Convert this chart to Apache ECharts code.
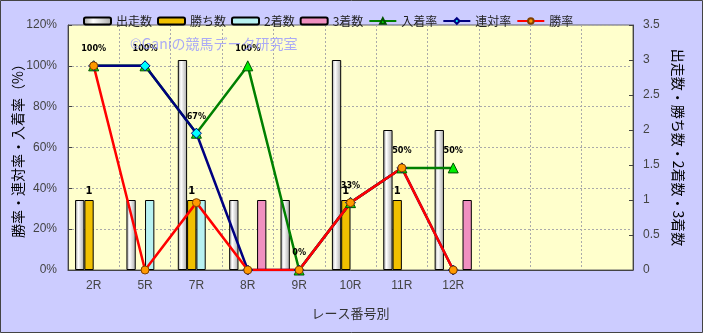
<!DOCTYPE html>
<html><head><meta charset="utf-8">
<script src="https://cdn.jsdelivr.net/npm/echarts@6/dist/echarts.min.js"></script>
<style>html,body{margin:0;padding:0;background:#CCCCFF}#c{width:703px;height:333px}</style>
</head><body><div id="c"></div>
<script>
const categories = ['2R','5R','7R','8R','9R','10R','11R','12R','','',''];
const starts   = [1,1,3,1,1,3,2,2];
const wins     = [1,0,1,0,0,1,1,0];
const seconds  = [0,1,1,0,0,0,0,0];
const thirds   = [0,0,0,1,0,0,0,1];
const placeRate = [100,100,67,100,0,33,50,50];
const rentaiRate = [100,100,67,0,0,33,50,0];
const winRate   = [100,0,33,0,0,33,50,0];
const leftTicks = {min:0,max:120,interval:20};
const rightTicks = {min:0,max:3.5,interval:0.5};

// zero counts are not drawn as bars
const barData = arr => arr.map(v => (v === 0 ? null : v));

const font = '"Noto Sans CJK JP", "Liberation Sans", sans-serif';
const numFont = '"Liberation Sans", sans-serif';
const chart = echarts.init(document.getElementById('c'), null, {renderer:'canvas'});
const barBorder = {borderColor:'#000', borderWidth:1};
const startColor = new echarts.graphic.LinearGradient(0,0,1,0,[
  {offset:0,color:'#a0a0a0'},{offset:0.35,color:'#ffffff'},{offset:1,color:'#a8a8a8'}]);
const BW = 9.3;
chart.setOption({
  backgroundColor:'#CCCCFF',
  animation:false,
  textStyle:{fontFamily:font},
  legend:{
    top:10, left:78, itemGap:5, itemWidth:27, itemHeight:7, padding:5,
    textStyle:{fontSize:12,color:'#222',fontFamily:font},
    data:['出走数','勝ち数','2着数','3着数','入着率','連対率','勝率']
  },
  grid:{left:68,right:70,top:25,bottom:63,outerBoundsMode:'none',containLabel:false,
    show:true,backgroundColor:'#FFFFCC',borderColor:'#666',borderWidth:1},
  xAxis:{
    type:'category', data:categories, boundaryGap:true,
    name:'レース番号別', nameLocation:'middle', nameGap:37,
    nameTextStyle:{fontSize:13,color:'#333',fontFamily:font},
    axisLine:{lineStyle:{color:'#444'}},
    axisTick:{show:false},
    axisLabel:{fontSize:12,color:'#444',margin:10,fontFamily:numFont},
    splitLine:{show:true,lineStyle:{color:'#aaa',type:[2,2]}}
  },
  yAxis:[{
    type:'value', min:leftTicks.min, max:leftTicks.max, interval:leftTicks.interval,
    name:'勝率・連対率・入着率（%）', nameLocation:'middle', nameGap:43, nameRotate:90,
    nameMoveOverlap:false,
    nameTextStyle:{fontSize:14,color:'#000',fontFamily:font},
    axisLine:{show:true,lineStyle:{color:'#444'}},
    axisTick:{show:true,inside:true,length:4,lineStyle:{color:'#444'}},
    axisLabel:{formatter:'{value}%',fontSize:12,color:'#444',margin:11,fontFamily:numFont},
    splitLine:{show:true,lineStyle:{color:'#aaa',type:[2,2]}}
  },{
    type:'value', min:rightTicks.min, max:rightTicks.max, interval:rightTicks.interval,
    name:'出走数・勝ち数・2着数・3着数', nameLocation:'middle', nameGap:38, nameRotate:-90,
    nameMoveOverlap:false,
    nameTextStyle:{fontSize:14,color:'#000',fontFamily:font},
    axisLine:{show:true,lineStyle:{color:'#444'}},
    axisTick:{show:true,inside:true,length:4,lineStyle:{color:'#444'}},
    axisLabel:{fontSize:12,color:'#444',margin:10,fontFamily:numFont},
    splitLine:{show:false}
  }],
  series:[
    {name:'出走数',type:'bar',yAxisIndex:1,data:barData(starts),barWidth:BW,barGap:'0%',
     itemStyle:Object.assign({color:startColor},barBorder)},
    {name:'勝ち数',type:'bar',yAxisIndex:1,data:barData(wins),barWidth:BW,barGap:'0%',
     itemStyle:Object.assign({color:'#F0C000'},barBorder),
     label:{show:true,position:'top',distance:4,fontSize:10,fontWeight:'bold',color:'#000',
       fontFamily:'"DejaVu Sans", sans-serif'}},
    {name:'2着数',type:'bar',yAxisIndex:1,data:barData(seconds),barWidth:BW,barGap:'0%',
     itemStyle:Object.assign({color:'#B8F2F2'},barBorder)},
    {name:'3着数',type:'bar',yAxisIndex:1,data:barData(thirds),barWidth:BW,barGap:'0%',
     itemStyle:Object.assign({color:'#F090C0'},barBorder)},
    {name:'入着率',type:'line',yAxisIndex:0,data:placeRate,symbol:'triangle',symbolSize:10,
     lineStyle:{color:'#008000',width:2.5},itemStyle:{color:'#00EE00',borderColor:'#005000',borderWidth:1},
     label:{show:true,position:'top',distance:7,fontSize:9,fontWeight:'bold',color:'#000',
       fontFamily:'"DejaVu Sans Condensed","DejaVu Sans", sans-serif',formatter:'{c}%'}},
    {name:'連対率',type:'line',yAxisIndex:0,data:rentaiRate,symbol:'diamond',symbolSize:10,
     lineStyle:{color:'#000080',width:2.5},itemStyle:{color:'#00FFFF',borderColor:'#000080',borderWidth:1}},
    {name:'勝率',type:'line',yAxisIndex:0,data:winRate,symbol:'circle',symbolSize:8,
     lineStyle:{color:'#FF0000',width:2.5},itemStyle:{color:'#FF9900',borderColor:'#804000',borderWidth:1}}
  ],
  graphic:[
    {type:'text',left:130,top:37,silent:true,z:100,
     style:{text:'©Ganiの競馬データ研究室',fontSize:14,fill:'rgba(150,150,255,0.8)',fontFamily:font}},
    {type:'rect',shape:{x:0.5,y:0.5,width:702,height:332},style:{fill:'none',stroke:'#444',lineWidth:1},silent:true,z:100}
  ]
});
</script></body></html>
